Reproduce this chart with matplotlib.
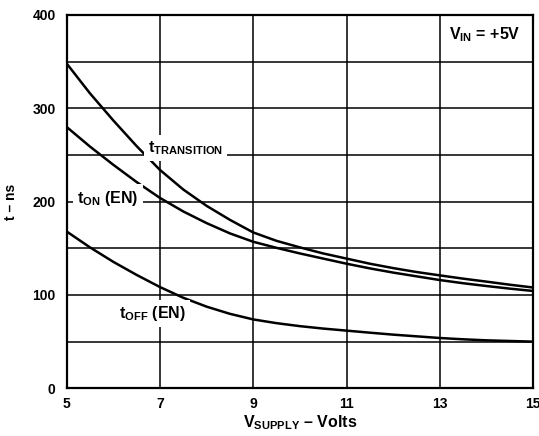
#!/usr/bin/env python3
"""Switching time vs supply voltage (t_TRANSITION, t_ON(EN), t_OFF(EN)), V_IN = +5V."""
import matplotlib; matplotlib.use("Agg")
import matplotlib.pyplot as plt

# values (ns), every 0.5 V
v_supply = [5, 5.5, 6, 6.5, 7, 7.5, 8, 8.5, 9, 9.5, 10, 10.5, 11, 11.5, 12, 12.5, 13, 13.5, 14, 14.5, 15]
t_transition = [348, 316, 287, 259.5, 234, 213, 195.5, 180.5, 167, 158, 151, 144.5, 139, 133.5, 128.8, 124.6,
                121, 117.5, 114.3, 111, 108]
t_on = [280, 259, 239.5, 221, 204, 189.5, 177, 166, 157, 150.5, 144.5, 139, 133.5, 128.5, 124, 120,
        116, 112.6, 109.6, 106.8, 104.3]
t_off = [168, 151, 135.5, 121.5, 108.5, 97, 87.5, 79.8, 73.8, 69.8, 66.6, 64, 61.8, 59.6, 57.5, 55.7,
         53.9, 52.5, 51.4, 50.7, 50]

x_ticks = [5, 7, 9, 11, 13, 15]
y_ticks = [0, 100, 200, 300, 400]
y_grid = [50, 100, 150, 200, 250, 300, 350]

plt.rcParams["font.family"] = ["Liberation Sans", "DejaVu Sans"]
plt.rcParams["font.weight"] = "bold"
plt.rcParams["mathtext.fontset"] = "custom"
plt.rcParams["mathtext.rm"] = "Liberation Sans:bold"
plt.rcParams["mathtext.it"] = "Liberation Sans:bold"
plt.rcParams["mathtext.bf"] = "Liberation Sans:bold"

fig = plt.figure(figsize=(5.39, 4.36), dpi=100)
ax = fig.add_axes([0.1237, 0.1094, 0.8653, 0.8562])
ax.set_xlim(5, 15); ax.set_ylim(0, 400)

for x in x_ticks[1:-1]:
    ax.axvline(x, color="black", lw=1.1, zorder=1)
for y in y_grid:
    ax.axhline(y, color="black", lw=1.1, zorder=1)

for ys in (t_transition, t_on, t_off):
    ax.plot(v_supply, ys, color="black", lw=1.8, zorder=3, solid_joinstyle="round")

box = dict(facecolor="white", edgecolor="none", pad=3)
lab = dict(fontsize=11.5, va="baseline", ha="left", bbox=box, zorder=4)
ax.text(6.74, 253, r"t$_{\mathrm{TRANSITION}}$", **lab)
ax.text(5.23, 199, r"t$_{\mathrm{ON}}$ (EN)", **lab)
ax.text(6.13, 75, r"t$_{\mathrm{OFF}}$ (EN)", **lab)
ax.text(13.19, 374, r"V$_{\mathrm{IN}}$ = +5V", fontsize=11.5, va="baseline", ha="left", zorder=4)

ax.set_xticks(x_ticks); ax.set_yticks(y_ticks)
ax.tick_params(length=0, labelsize=10)
ax.tick_params(axis="y", pad=8)
ax.tick_params(axis="x", pad=6)
for t in ax.get_xticklabels() + ax.get_yticklabels():
    t.set_fontweight("bold")
for s in ax.spines.values():
    s.set_linewidth(1.6)

ax.set_xlabel(r"V$_{\mathrm{SUPPLY}}$ – Volts", fontsize=11.5, fontweight="bold", labelpad=2)
ax.set_ylabel("t – ns", fontsize=10, fontweight="bold", labelpad=10)

plt.savefig("out.png", dpi=100)
